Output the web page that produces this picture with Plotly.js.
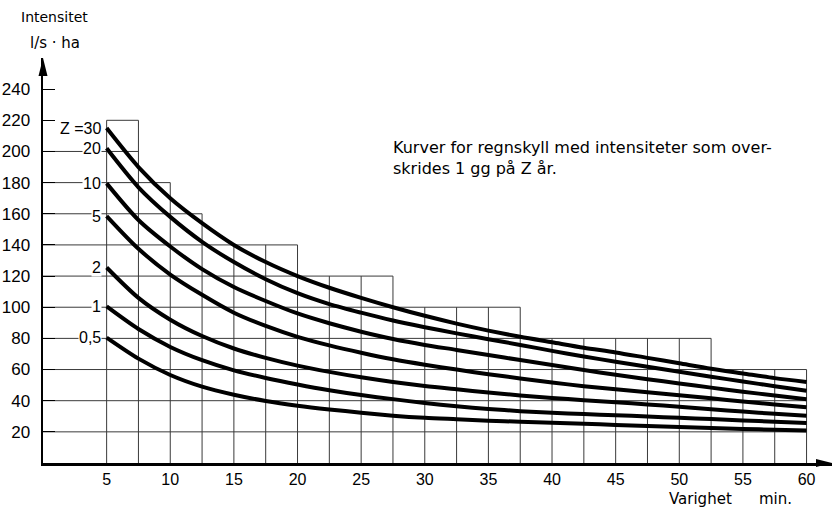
<!DOCTYPE html>
<html><head><meta charset="utf-8">
<script src="https://cdn.plot.ly/plotly-3.0.1.min.js"></script>
<style>html,body{margin:0;padding:0;background:#fff}#chart{width:834px;height:508px}</style>
</head><body><div id="chart"></div>
<script>
// Duration (min) sample points
const durations = [5, 7.5, 10, 12.5, 15, 17.5, 20, 22.5, 25, 27.5, 30, 32.5, 35, 37.5, 40, 42.5, 45, 47.5, 50, 52.5, 55, 57.5, 60];
// Intensity (l/s·ha) for each return period Z
const z30  = [215, 190, 170, 154, 140, 129, 120, 112.5, 106, 100, 94.5, 89.5, 85, 81, 77.5, 74, 71, 67.5, 64, 60.5, 57.5, 54.5, 52];
const z20  = [202, 177, 158, 142, 129, 118, 109, 102, 96.5, 91.5, 87.2, 83.2, 79.5, 75.8, 72, 68.4, 65, 61.8, 58.6, 55.4, 52.3, 49.3, 46.4];
const z10  = [179.5, 156, 139, 124.5, 113, 104, 96, 89.7, 84.3, 79.6, 75.8, 72.6, 69.3, 66.1, 62.9, 59.7, 56.6, 53.8, 51.1, 48.4, 45.8, 43.3, 40.9];
const z5   = [158.5, 137.5, 121, 108, 96.5, 88, 81, 75.5, 70.8, 66.6, 63.1, 60, 57, 54.3, 51.7, 49.3, 47.3, 45.4, 43.5, 41.5, 39.5, 37.5, 35.8];
const z2   = [125.5, 106, 92, 81.5, 73.5, 67.5, 62.5, 58.5, 55, 52, 49.4, 47.3, 45.3, 43.4, 41.8, 40.3, 39, 37.6, 36.1, 34.5, 33, 31.6, 30.3];
const z1   = [100.5, 86, 74.5, 66, 59.5, 54.6, 50.4, 46.7, 43.6, 41, 38.5, 36.4, 34.7, 33.3, 32.3, 31.4, 30.7, 29.8, 29, 28.2, 27.3, 26.5, 25.7];
const z05  = [80.5, 67, 56.5, 49, 43.8, 39.8, 36.8, 34.4, 32.3, 30.4, 29, 28.1, 27.2, 26.5, 25.9, 25.2, 24.4, 23.7, 23.1, 22.5, 21.9, 21.3, 20.8];
const curveLabels = ["Z =30", "20", "10", "5", "2", "1", "0,5"];
const curveSeries = [z30, z20, z10, z5, z2, z1, z05];

// Axis ticks
const xTickValues = [5, 10, 15, 20, 25, 30, 35, 40, 45, 50, 55, 60];
const yTickValues = [20, 40, 60, 80, 100, 120, 140, 160, 180, 200, 220, 240];

// Staircase grid (columns of the background grid)
const gridColStart = [5, 7.5, 10, 12.5, 20, 27.5, 37.5, 52.5];
const gridColEnd   = [7.5, 10, 12.5, 20, 27.5, 37.5, 52.5, 60];
const gridColTop   = [220, 180, 160, 140, 120, 100, 80, 60];
const gridStepX = 2.5;
const gridStepY = 20;

// Texts
const noteText = "Kurver for regnskyll med intensiteter som over-<br>skrides 1 gg på Z år.";
const yTitle1 = "Intensitet";
const yTitle2 = "l/s · ha";
const xTitle1 = "Varighet";
const xTitle2 = "min.";

// ---- build grid lines from the staircase arrays
const gx = [], gy = [];
for (let L = gridStepY; L <= gridColTop[0]; L += gridStepY) {
  let end = null;
  for (let i = 0; i < gridColTop.length; i++) if (gridColTop[i] >= L) end = gridColEnd[i];
  const start = L < gridColTop[0] ? 0 : gridColStart[0];
  gx.push(start, end, null); gy.push(L, L, null);
}
const xMin = gridColStart[0], xMax = gridColEnd[gridColEnd.length - 1];
for (let X = xMin; X <= xMax + 1e-9; X += gridStepX) {
  let top = 0;
  for (let i = 0; i < gridColTop.length; i++) {
    if (X >= gridColStart[i] - 1e-9 && X <= gridColEnd[i] + 1e-9) top = Math.max(top, gridColTop[i]);
  }
  gx.push(X, X, null); gy.push(0, top, null);
}

const traces = [{
  x: gx, y: gy, mode: 'lines', type: 'scatter',
  line: {color: '#3a3a3a', width: 1}, hoverinfo: 'skip', connectgaps: false
}];
curveSeries.forEach((s) => {
  traces.push({
    x: durations, y: s, mode: 'lines', type: 'scatter',
    line: {color: '#000', width: 4, shape: 'spline', smoothing: 0.8}
  });
});

const annotations = curveSeries.map((s, i) => ({
  xref: 'x', yref: 'y', x: 4.67, y: s[0], xanchor: 'right', yanchor: 'middle',
  text: curveLabels[i], showarrow: false, bgcolor: '#fff', borderpad: 0,
  font: {size: 16, color: '#000', family: 'Liberation Sans, Arial, sans-serif'}
}));
annotations.push(
  {xref: 'x', yref: 'y', x: 27.35, y: 196, xanchor: 'left', yanchor: 'middle', align: 'left',
   text: noteText, showarrow: false, font: {size: 16, family: 'DejaVu Sans, sans-serif', color: '#000'}},
  {xref: 'paper', yref: 'paper', x: 0.0146, y: 1.101, xanchor: 'center', yanchor: 'middle',
   text: yTitle1, showarrow: false, font: {size: 14, family: 'DejaVu Sans, sans-serif', color: '#000'}},
  {xref: 'paper', yref: 'paper', x: 0.0158, y: 1.037, xanchor: 'center', yanchor: 'middle',
   text: yTitle2, showarrow: false, font: {size: 15, family: 'DejaVu Sans, sans-serif', color: '#000'}},
  {xref: 'paper', yref: 'paper', x: 0.8327, y: -0.089, xanchor: 'center', yanchor: 'middle',
   text: xTitle1, showarrow: false, font: {size: 15, family: 'DejaVu Sans, sans-serif', color: '#000'}},
  {xref: 'paper', yref: 'paper', x: 0.9278, y: -0.089, xanchor: 'center', yanchor: 'middle',
   text: xTitle2, showarrow: false, font: {size: 15, family: 'DejaVu Sans, sans-serif', color: '#000'}}
);

const layout = {
  width: 834, height: 508,
  margin: {l: 43, r: 2, t: 58, b: 45},
  paper_bgcolor: '#fff', plot_bgcolor: '#fff',
  showlegend: false,
  font: {family: 'Liberation Sans, Arial, sans-serif', color: '#000'},
  xaxis: {range: [0, 62], showgrid: false, zeroline: false, showline: true, linewidth: 2.5, linecolor: '#000',
          tickvals: xTickValues, ticks: '', tickfont: {size: 16}, ticklabelstandoff: 0, fixedrange: true},
  yaxis: {range: [0, 260], showgrid: false, zeroline: false, showline: true, linewidth: 2.5, linecolor: '#000',
          tickvals: yTickValues, ticks: 'inside', ticklen: 12, tickwidth: 1, tickcolor: '#000',
          tickfont: {size: 17}, ticklabelstandoff: 7, fixedrange: true},
  annotations: annotations,
  shapes: [
    {type: 'path', xref: 'paper', yref: 'paper', xsizemode: 'pixel', ysizemode: 'pixel', xanchor: 0, yanchor: 1,
     path: 'M0,0 L-4.5,-18 L4.5,-18 Z', fillcolor: '#000', line: {width: 0}},
    {type: 'path', xref: 'paper', yref: 'paper', xsizemode: 'pixel', ysizemode: 'pixel', xanchor: 1, yanchor: 0,
     path: 'M0,0 L-16,4 L-16,-4 Z', fillcolor: '#000', line: {width: 0}}
  ]
};

Plotly.newPlot('chart', traces, layout, {displayModeBar: false, staticPlot: true});
</script>
</body></html>
